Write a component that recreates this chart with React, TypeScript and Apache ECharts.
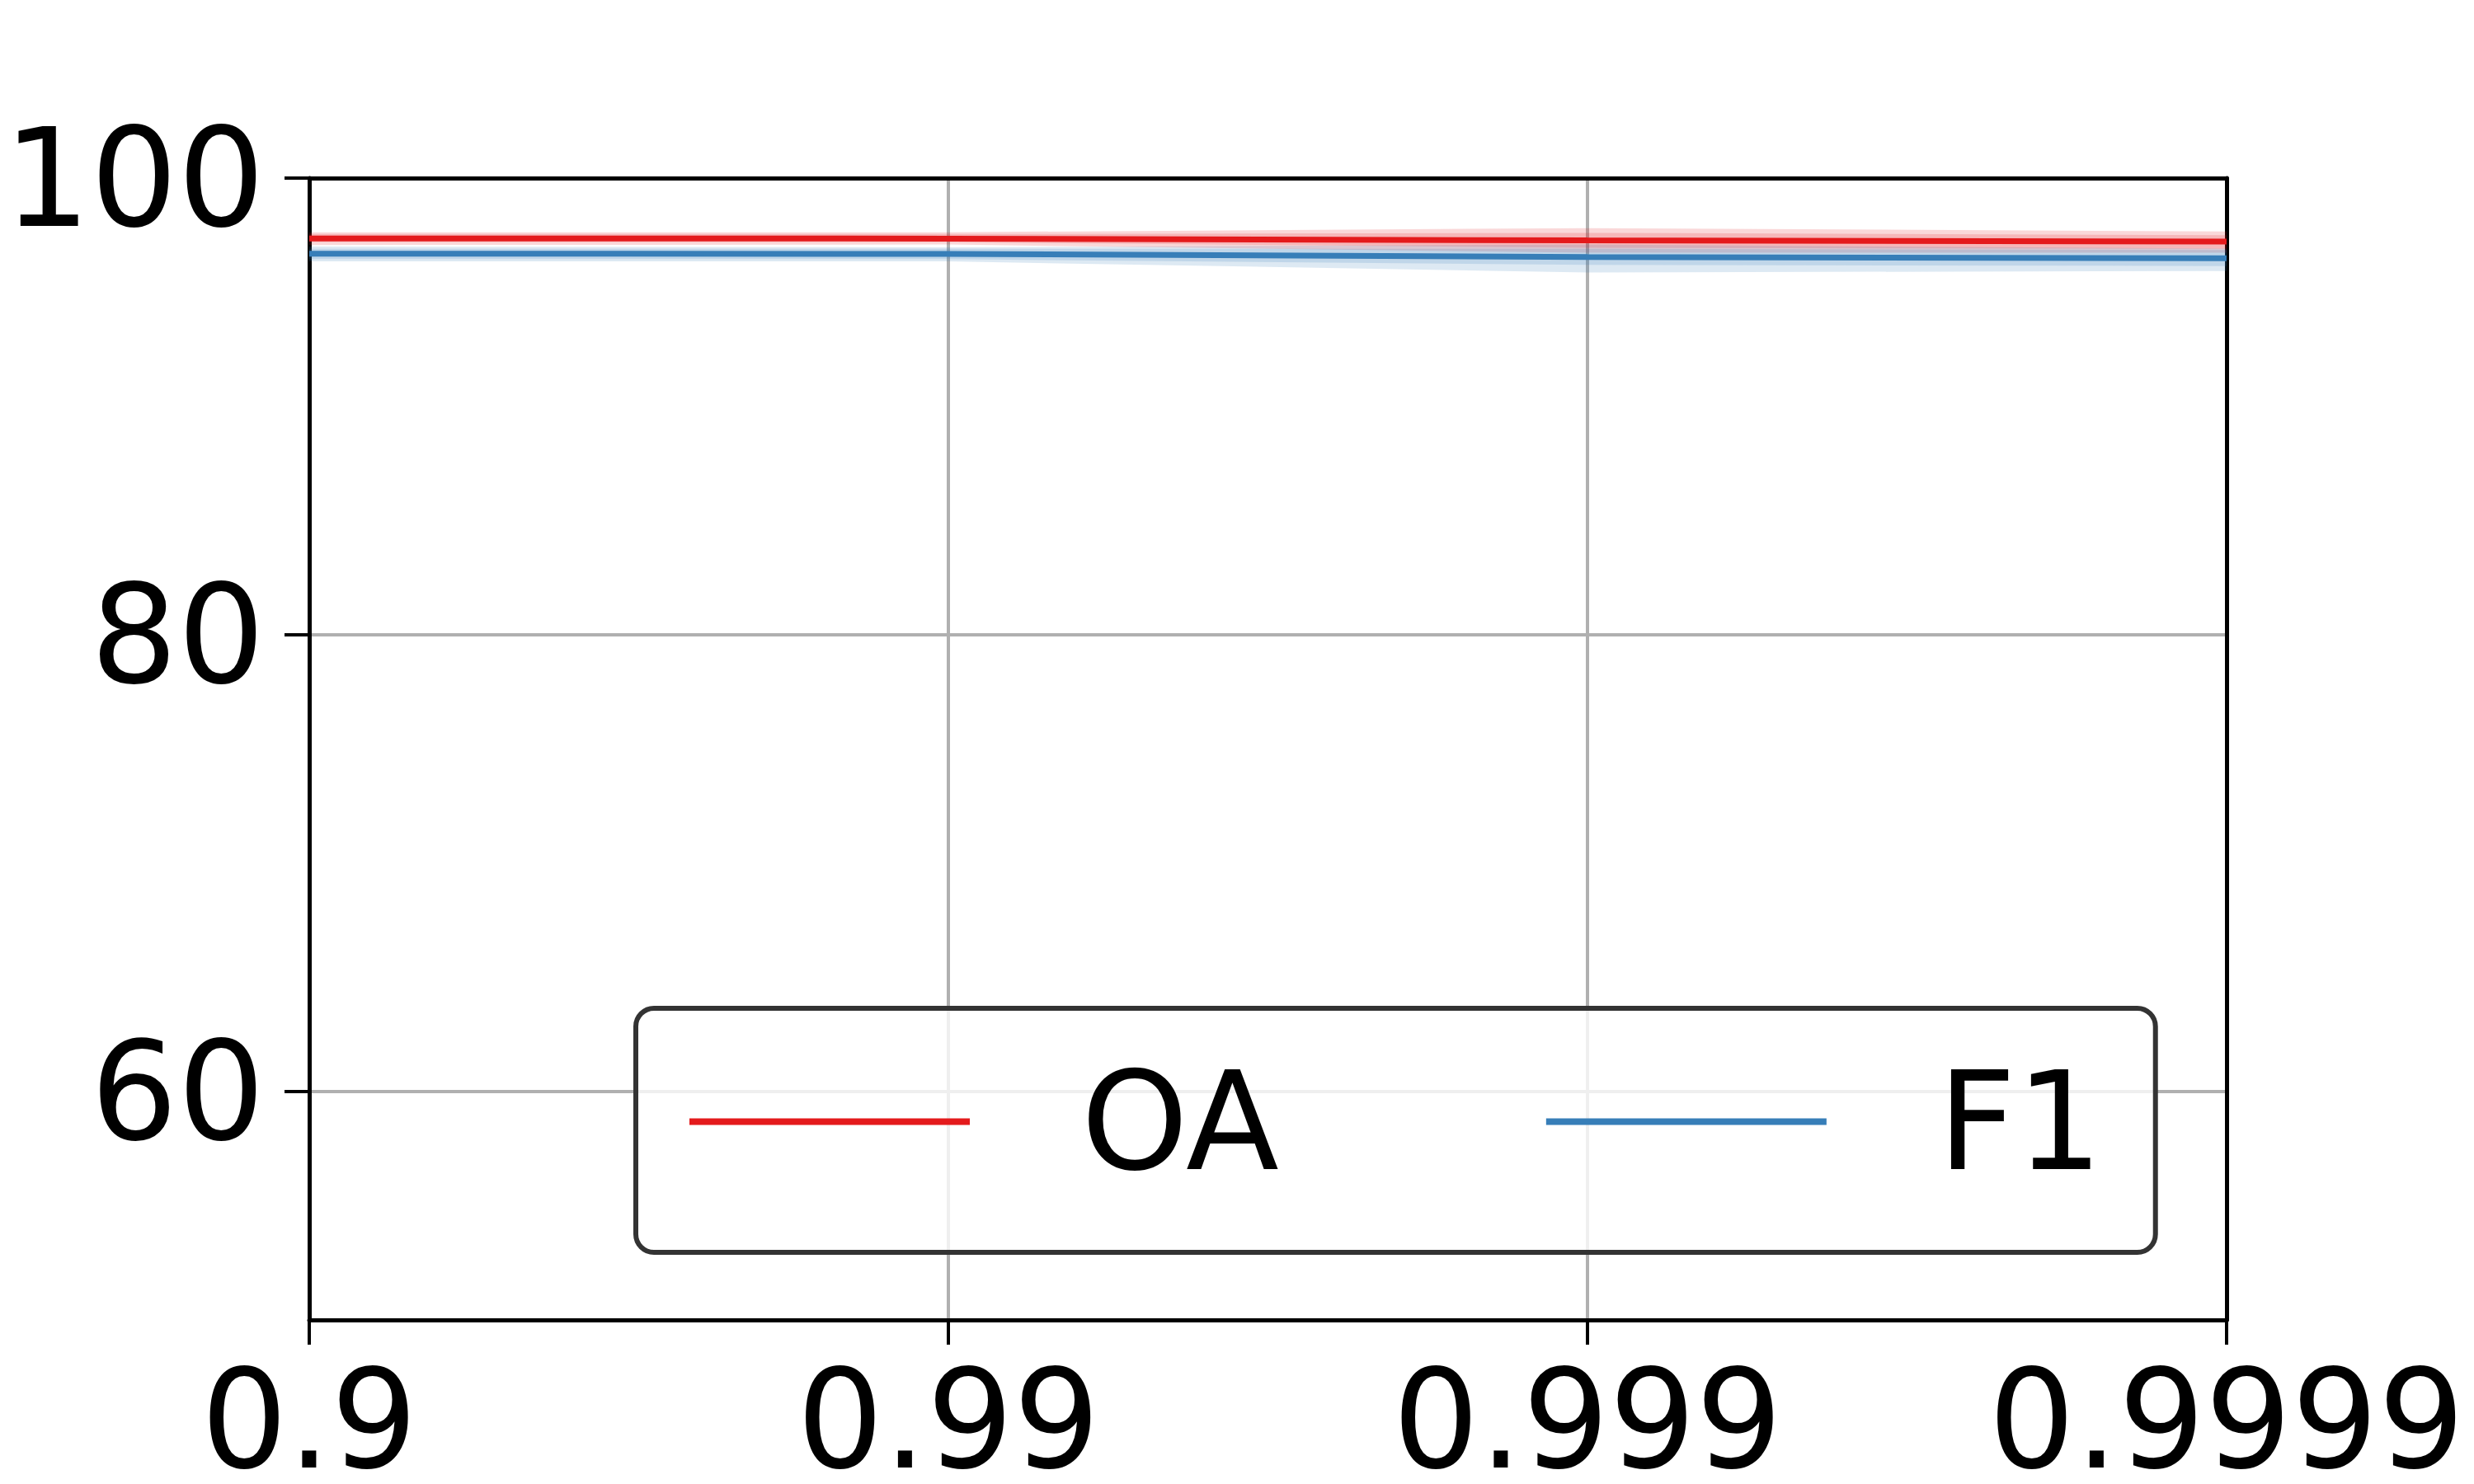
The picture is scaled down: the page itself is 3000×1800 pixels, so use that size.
import React, { useEffect, useRef } from "react";
import * as echarts from "echarts";

const categories = ["0.9", "0.99", "0.999", "0.9999"];
const yTicks = [60, 80, 100];

const oaMean = [97.36, 97.35, 97.27, 97.22];
const oaMin = [97.07, 97.09, 96.73, 96.73];
const oaMax = [97.63, 97.63, 97.81, 97.66];
const oaInnerLow = [97.2, 97.2, 96.95, 96.9];
const oaInnerHigh = [97.55, 97.55, 97.6, 97.5];

const f1Mean = [96.69, 96.68, 96.54, 96.49];
const f1Min = [96.35, 96.35, 95.87, 95.93];
const f1Max = [97.0, 96.97, 97.09, 96.91];
const f1InnerLow = [96.45, 96.45, 96.2, 96.15];
const f1InnerHigh = [96.9, 96.9, 96.9, 96.85];

const RED = "#e41a1c";
const BLUE = "#377eb8";
const FONT = "DejaVu Sans";

function band(id: string, low: number[], high: number[], color: string) {
  return [
    {
      name: id + "-base",
      type: "line",
      stack: id,
      data: low,
      symbol: "none",
      silent: true,
      lineStyle: { opacity: 0 },
      z: 1,
    },
    {
      name: id + "-fill",
      type: "line",
      stack: id,
      data: high.map((h, i) => +(h - low[i]).toFixed(4)),
      symbol: "none",
      silent: true,
      lineStyle: { opacity: 0 },
      areaStyle: { color, opacity: 1 },
      z: 1,
    },
  ];
}

export default function App() {
  const ref = useRef<HTMLDivElement>(null);
  useEffect(() => {
    if (!ref.current) return;
    const chart = echarts.init(ref.current, null, { renderer: "svg" });
    chart.setOption({
      animation: false,
      backgroundColor: "#ffffff",
      textStyle: { fontFamily: FONT },
      grid: {
        left: 375,
        right: 300,
        top: 216,
        bottom: 199,
        containLabel: false,
        outerBoundsMode: "none",
        show: false,
      },
      legend: {
        data: ["OA", "F1"],
        left: 771,
        top: 1223,
        orient: "horizontal",
        icon: "rect",
        itemWidth: 340,
        itemHeight: 8,
        itemGap: 324,
        padding: [55, 64, 76, 65],
        backgroundColor: "rgba(255,255,255,0.8)",
        borderColor: "#333",
        borderWidth: 6,
        borderRadius: 22,
        textStyle: {
          fontSize: 165,
          fontFamily: FONT,
          color: "#000",
          padding: [0, 0, 0, 130],
        },
      },
      xAxis: [
        {
          type: "category",
          data: categories,
          boundaryGap: false,
          axisLine: { show: true, lineStyle: { color: "#000", width: 5 } },
          axisTick: {
            show: true,
            length: 30,
            alignWithLabel: true,
            lineStyle: { color: "#000", width: 4 },
          },
          axisLabel: {
            interval: 0,
            fontSize: 165,
            lineHeight: 120,
            fontFamily: FONT,
            color: "#000",
            margin: 62,
          },
          splitLine: { show: true, lineStyle: { color: "#b0b0b0", width: 4 } },
        },
        {
          type: "category",
          data: categories,
          boundaryGap: false,
          position: "top",
          axisLine: { show: true, lineStyle: { color: "#000", width: 5 } },
          axisTick: { show: false },
          axisLabel: { show: false },
          splitLine: { show: false },
        },
      ],
      yAxis: [
        {
          type: "value",
          min: 50,
          max: 100,
          axisLine: { show: true, lineStyle: { color: "#000", width: 5 } },
          axisTick: {
            show: true,
            length: 30,
            customValues: yTicks,
            lineStyle: { color: "#000", width: 4 },
          },
          axisLabel: {
            customValues: yTicks,
            fontSize: 166,
            fontFamily: FONT,
            color: "#000",
            margin: 54,
            padding: [16, 0, 0, 0],
          },
          splitLine: { show: true, lineStyle: { color: "#b0b0b0", width: 4 } },
        },
        {
          type: "value",
          min: 50,
          max: 100,
          position: "right",
          axisLine: { show: true, lineStyle: { color: "#000", width: 5 } },
          axisTick: { show: false },
          axisLabel: { show: false },
          splitLine: { show: false },
        },
      ],
      series: [
        ...band("oaOuter", oaMin, oaMax, "rgba(228,26,28,0.17)"),
        ...band("oaInner", oaInnerLow, oaInnerHigh, "rgba(228,26,28,0.17)"),
        ...band("f1Outer", f1Min, f1Max, "rgba(55,126,184,0.17)"),
        ...band("f1Inner", f1InnerLow, f1InnerHigh, "rgba(55,126,184,0.17)"),
        {
          name: "OA",
          type: "line",
          data: oaMean,
          symbol: "none",
          color: RED,
          lineStyle: { color: RED, width: 7 },
          z: 3,
        },
        {
          name: "F1",
          type: "line",
          data: f1Mean,
          symbol: "none",
          color: BLUE,
          lineStyle: { color: BLUE, width: 7 },
          z: 3,
        },
      ],
    });
    return () => chart.dispose();
  }, []);
  return (
    <div
      ref={ref}
      style={{ position: "fixed", left: 0, top: 0, width: 3000, height: 1800 }}
    />
  );
}
